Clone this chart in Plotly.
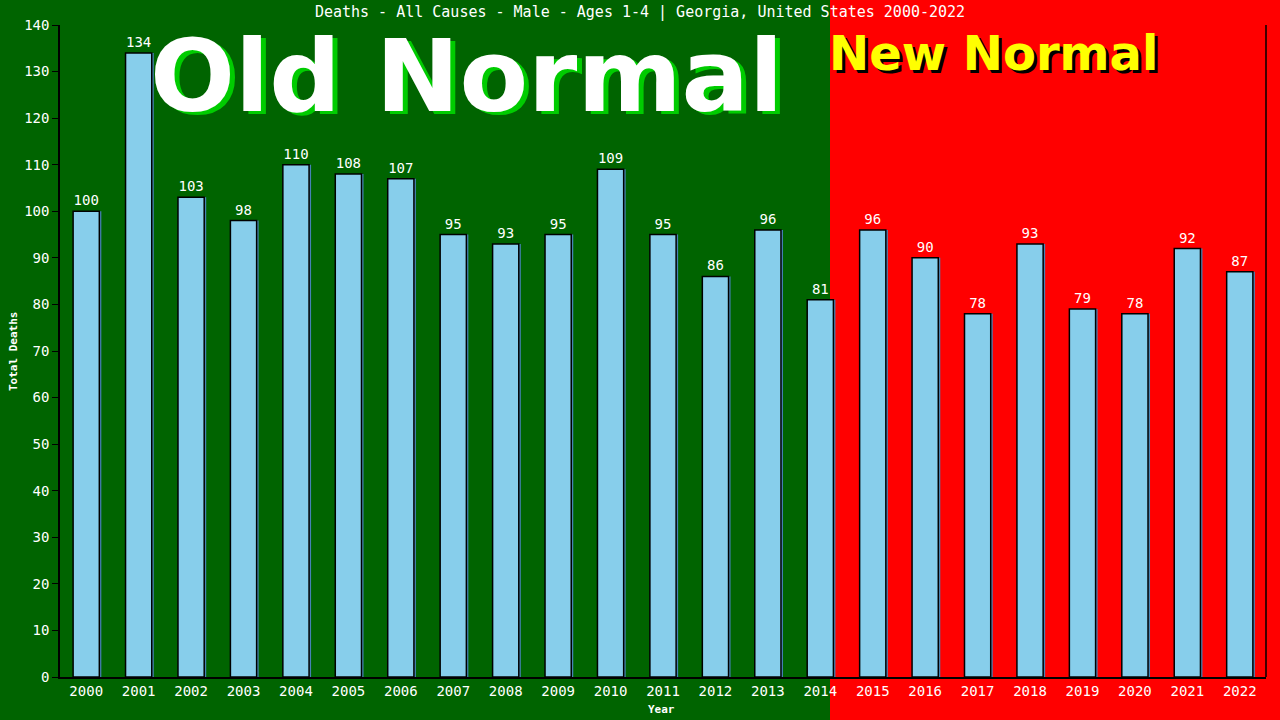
import plotly.graph_objects as go

years = [str(y) for y in range(2000, 2023)]
deaths = [100, 134, 103, 98, 110, 108, 107, 95, 93, 95, 109, 95, 86, 96, 81,
          96, 90, 78, 93, 79, 78, 92, 87]
title_text = "Deaths - All Causes - Male - Ages 1-4 | Georgia, United States 2000-2022"

W, H = 1280, 720
L, R, T, B = 60, 14, 25, 43
pw, ph = W - L - R, H - T - B

def px(x):
    return (x - L) / pw

def py(y):
    return (H - B - y) / ph

mono = "DejaVu Sans Mono"

fig = go.Figure()
# shadow bars
fig.add_trace(go.Bar(
    x=years, y=deaths, width=0.5, offset=-0.25 + 2 / 52.4,
    marker=dict(color="#4682B4", line=dict(width=0)),
    hoverinfo="skip", showlegend=False,
))
fig.add_trace(go.Bar(
    x=years, y=deaths, width=0.5, offset=-0.25,
    marker=dict(color="#87CEEB", line=dict(color="black", width=1.5)),
    text=[str(v) for v in deaths], textposition="outside",
    textfont=dict(family=mono, size=14, color="white"),
    cliponaxis=False, showlegend=False,
))

fig.add_shape(type="rect", xref="paper", yref="paper",
              x0=px(830), x1=px(W + 10), y0=py(H + 10), y1=py(-10),
              fillcolor="#FF0000", line=dict(width=0), layer="below")
# right border line
fig.add_shape(type="line", xref="paper", yref="paper",
              x0=1, x1=1, y0=0, y1=1, line=dict(color="black", width=1.5))

# Old Normal
fig.add_annotation(text="<b>Old Normal</b>", xref="paper", yref="paper",
                   x=px(466), y=py(76), xanchor="center", yanchor="middle",
                   showarrow=False,
                   font=dict(family="DejaVu Sans", size=100, color="white",
                             shadow="5px 3px 0px #00CC00"))
# New Normal
fig.add_annotation(text="<b>New Normal</b>", xref="paper", yref="paper",
                   x=px(993), y=py(53), xanchor="center", yanchor="middle",
                   showarrow=False,
                   font=dict(family="DejaVu Sans", size=48, color="#FFFF00",
                             shadow="3px 3px 0px black"))

# axis titles
fig.add_annotation(text="<b>Year</b>", xref="paper", yref="paper",
                   x=px(661), y=py(709), xanchor="center", yanchor="middle",
                   showarrow=False, font=dict(family=mono, size=11, color="white"))
fig.add_annotation(text="<b>Total Deaths</b>", xref="paper", yref="paper",
                   x=px(13), y=py(351), xanchor="center", yanchor="middle",
                   textangle=-90, showarrow=False,
                   font=dict(family=mono, size=11, color="white"))

fig.update_layout(
    width=W, height=H,
    margin=dict(l=L, r=R, t=T, b=B, autoexpand=False),
    paper_bgcolor="#006400", plot_bgcolor="rgba(0,0,0,0)",
    barmode="overlay", bargap=0.5,
    title=dict(text=title_text, x=0.5, xanchor="center", y=1 - 12 / H, yanchor="middle",
               font=dict(family=mono, size=15, color="white")),
    font=dict(family=mono, color="white"),
    xaxis=dict(type="category", range=[-0.5, 22.5], showgrid=False, automargin=False,
               showline=True, linecolor="black", linewidth=1.5,
               ticks="", tickfont=dict(family=mono, size=14, color="white")),
    yaxis=dict(range=[0, 140], dtick=10, showgrid=False, zeroline=False, automargin=False,
               showline=True, linecolor="black", linewidth=1.5,
               ticks="outside", ticklen=6, tickcolor="black",
               tickfont=dict(family=mono, size=14, color="white")),
)

fig.write_html("out.html", config={"displayModeBar": False},
               post_script="document.body.style.margin='0';")
